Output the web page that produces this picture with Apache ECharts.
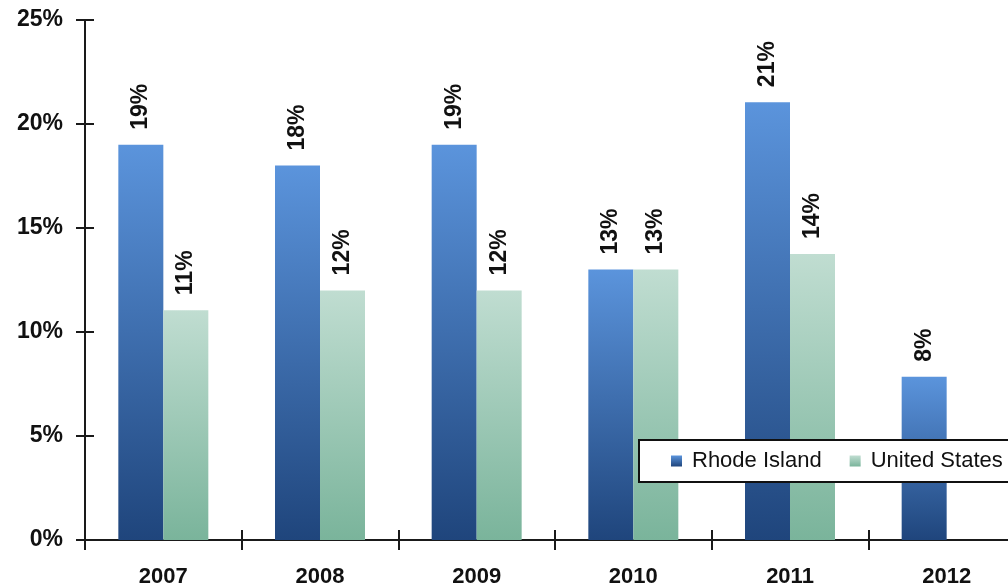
<!DOCTYPE html>
<html>
<head>
<meta charset="utf-8">
<script src="https://cdn.jsdelivr.net/npm/echarts@6/dist/echarts.min.js"></script>
<style>
  html, body { margin: 0; padding: 0; background: #fff; overflow: hidden; }
  /* the plot runs slightly past the right edge of the page */
  #chart { width: 1025px; height: 588px; }
</style>
</head>
<body>
<div id="chart"></div>
<script>
// Annual growth rates, Rhode Island vs. United States
const years = ['2007', '2008', '2009', '2010', '2011', '2012'];
const rhodeIsland = [19, 18, 19, 13, 21.05, 7.85];
const unitedStates = [11.05, 12, 12, 13, 13.75, null];
const yTicks = [0, 5, 10, 15, 20, 25];

const FONT = '"Liberation Sans", Arial, sans-serif';
const AXIS_COLOR = '#1a1a1a';

const pct = v => Math.round(v) + '%';

function grad(top, bottom) {
  return new echarts.graphic.LinearGradient(0, 0, 0, 1, [
    { offset: 0, color: top },
    { offset: 1, color: bottom }
  ]);
}

const barLabel = {
  show: true,
  position: 'top',
  rotate: 90,
  align: 'left',
  verticalAlign: 'middle',
  distance: 15,
  color: '#111',
  fontFamily: FONT,
  fontWeight: 'bold',
  fontSize: 23,
  formatter: p => (p.value == null ? '' : pct(p.value))
};

const lineStyle = { color: AXIS_COLOR, width: 2 };

// main value axis: line, outer ticks and labels
const valueAxisMain = {
  type: 'value',
  position: 'left',
  min: yTicks[0],
  max: yTicks[yTicks.length - 1],
  interval: 5,
  axisLine: { show: true, onZero: false, lineStyle },
  axisTick: { show: true, length: 9, lineStyle },
  axisLabel: {
    margin: 22,
    color: '#111',
    fontFamily: FONT,
    fontWeight: 'bold',
    fontSize: 23,
    formatter: v => v + '%'
  },
  splitLine: { show: false }
};

// twin axis nudged into the plot so its ticks complete the crosses
const valueAxisTwin = {
  type: 'value',
  position: 'left',
  offset: -9,
  min: yTicks[0],
  max: yTicks[yTicks.length - 1],
  interval: 5,
  axisLine: { show: false, onZero: false },
  axisTick: { show: true, length: 9, lineStyle },
  axisLabel: { show: false },
  splitLine: { show: false }
};

function categoryAxis(inside) {
  return {
    type: 'category',
    data: years,
    position: 'bottom',
    axisLine: { show: true, lineStyle },
    axisTick: { show: true, inside, length: 10, lineStyle },
    axisLabel: {
      show: !inside,
      margin: 26,
      color: '#111',
      fontFamily: FONT,
      fontWeight: 'bold',
      fontSize: 22
    },
    splitLine: { show: false }
  };
}

const chart = echarts.init(document.getElementById('chart'), null, { renderer: 'canvas' });

chart.setOption({
  animation: false,
  grid: { left: 85, top: 20, bottom: 47, right: 0, containLabel: false },
  legend: {
    left: 639,
    top: 440,
    width: 500,
    orient: 'horizontal',
    backgroundColor: '#fff',
    borderColor: '#111',
    borderWidth: 2,
    borderRadius: 0,
    padding: [10, 40, 10, 32],
    itemWidth: 11,
    itemHeight: 11,
    itemGap: 28,
    icon: 'rect',
    textStyle: { fontFamily: FONT, fontSize: 22, color: '#111', padding: [0, 0, 0, 5] },
    data: ['Rhode Island', 'United States']
  },
  xAxis: [categoryAxis(false), categoryAxis(true)],
  yAxis: [valueAxisMain, valueAxisTwin],
  series: [
    {
      name: 'Rhode Island',
      type: 'bar',
      xAxisIndex: 0,
      yAxisIndex: 0,
      data: rhodeIsland,
      barWidth: 45,
      barGap: '0%',
      itemStyle: { color: grad('#5b94dc', '#1f457c') },
      label: barLabel
    },
    {
      name: 'United States',
      type: 'bar',
      xAxisIndex: 0,
      yAxisIndex: 1,
      data: unitedStates,
      barWidth: 45,
      barGap: '0%',
      itemStyle: { color: grad('#c0ddd1', '#7ab49b') },
      label: barLabel
    }
  ]
});
</script>
</body>
</html>
